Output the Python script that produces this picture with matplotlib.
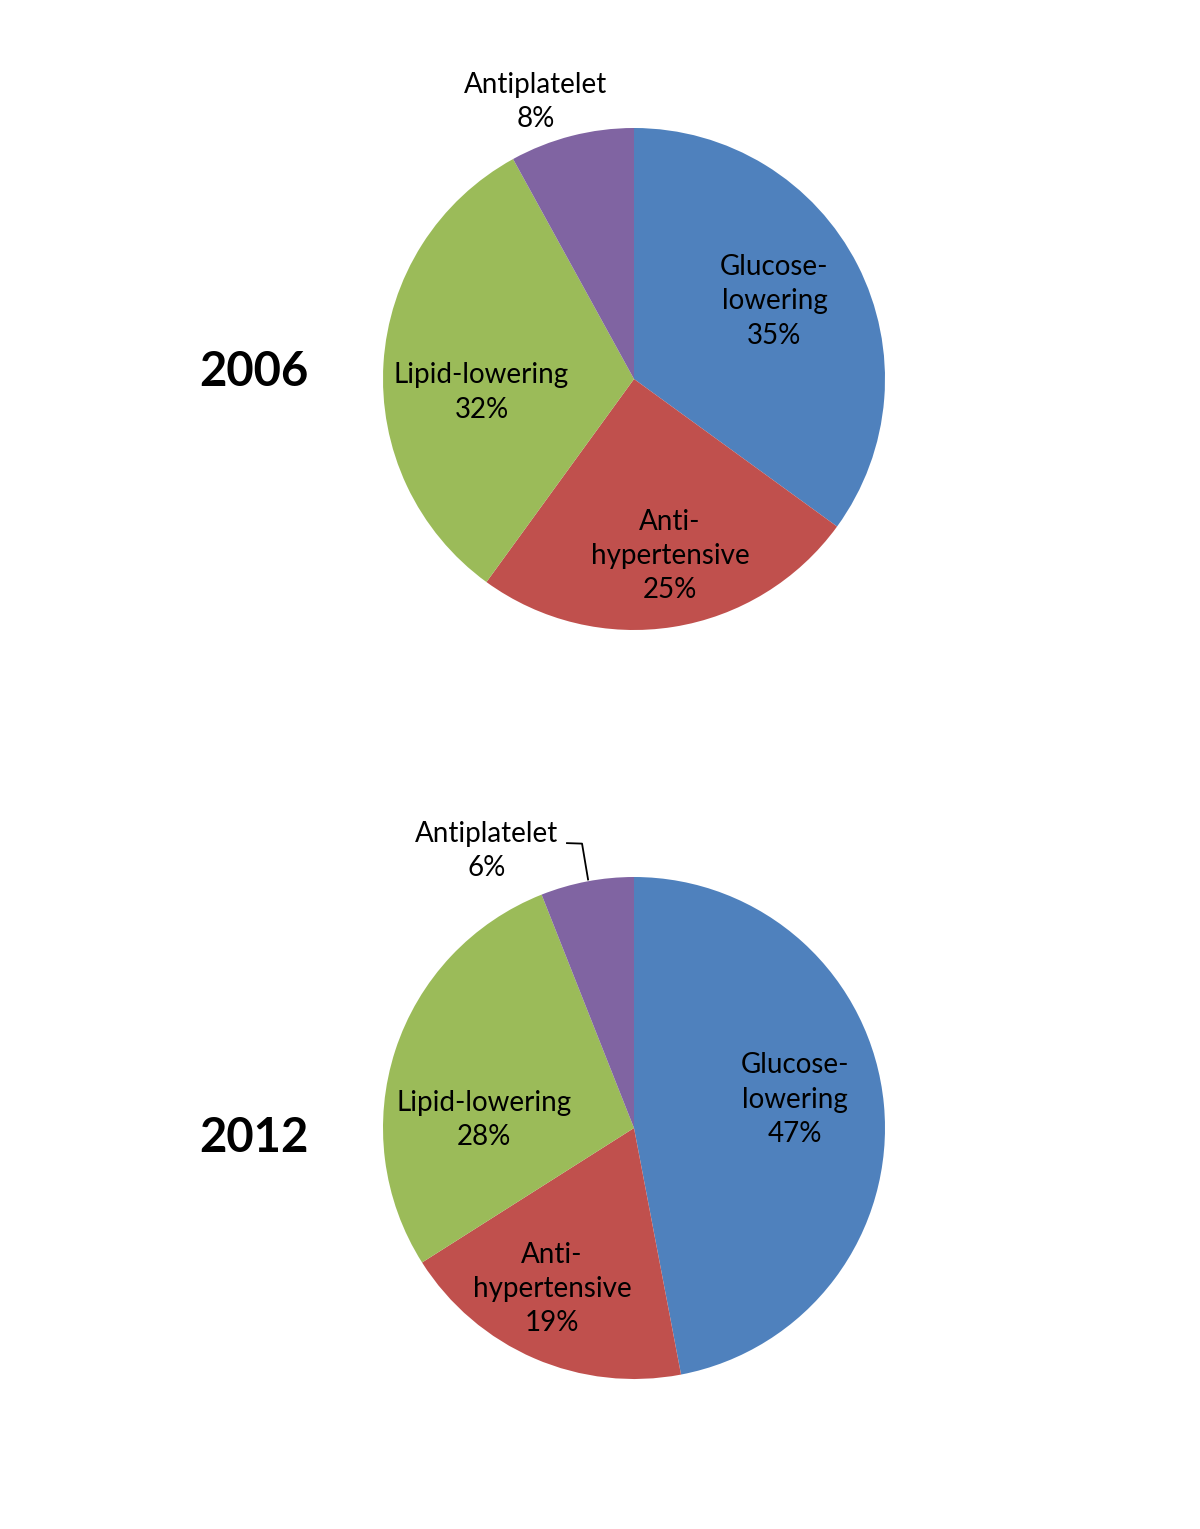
import matplotlib
matplotlib.use("Agg")
import matplotlib.pyplot as plt
import numpy as np

plt.rcParams['font.family'] = ['Lato', 'DejaVu Sans']

# data
years = ["2006", "2012"]
categories = ["Glucose-\nlowering", "Anti-\nhypertensive", "Lipid-lowering", "Antiplatelet"]
shares_2006 = [35, 25, 32, 8]
shares_2012 = [47, 19, 28, 6]

colors = ["#4F81BD", "#C0504D", "#9BBB59", "#8064A2"]

W, H = 1200, 1529
R = 251.0     # pie radius in px
HALF = 360.0  # half size of each axes in px
centers = [(634, 379), (634, 1128)]
year_y = [372, 1138]

# label placement (radius fraction, angle in degrees) per slice
label_pos = [
    [(0.64, 29), (0.72, -78.5), (0.61, 185), (1.17, 109.5)],
    [(0.65, 10), (0.72, -117), (0.60, 177), (1.25, 118)],
]

fig = plt.figure(figsize=(W / 100, H / 100), dpi=100)

for i, (yr, vals) in enumerate(zip(years, [shares_2006, shares_2012])):
    cx, cy = centers[i]
    ax = fig.add_axes([(cx - HALF) / W, 1 - (cy + HALF) / H, 2 * HALF / W, 2 * HALF / H])
    ax.pie(vals, colors=colors, startangle=90, counterclock=False, radius=1,
           wedgeprops=dict(linewidth=0))
    lim = HALF / R
    ax.set_xlim(-lim, lim)
    ax.set_ylim(-lim, lim)
    ax.set_aspect('equal')
    ax.axis('off')

    for j, (cat, v) in enumerate(zip(categories, vals)):
        r, a = label_pos[i][j]
        x = r * np.cos(np.radians(a))
        y = r * np.sin(np.radians(a))
        ax.text(x, y, f"{cat}\n{v}%", ha='center', va='center', fontsize=20,
                linespacing=1.4, color='black')

    if yr == "2012":
        ax.plot([-0.267, -0.207, -0.183], [1.135, 1.133, 0.99], color='black', lw=1.3)

    fig.text(254 / W, 1 - year_y[i] / H, yr, ha='center', va='center',
             fontsize=34, fontweight='bold')

fig.savefig("out.png", dpi=100)
